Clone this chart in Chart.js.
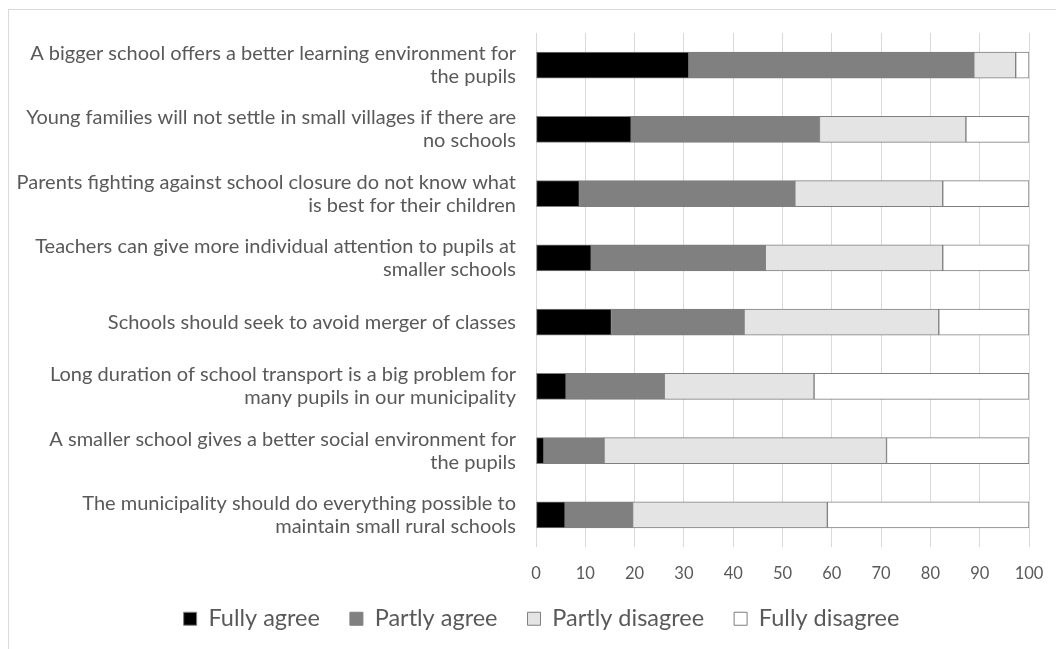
<!DOCTYPE html>
<html lang="en">
  <head>
    <meta charset="UTF-8" />
    <title>Attitudes towards small rural schools</title>
    <script src="https://cdn.jsdelivr.net/npm/chart.js"></script>
    <style>
      body { margin: 0; background: #fff; }
      #frame {
        position: absolute; left: 8px; top: 9px; width: 1100px; height: 700px;
        border-top: 1px solid #d9d9d9; border-left: 1px solid #d9d9d9;
      }
      #wrap { position: absolute; left: 0; top: 0; width: 1056px; height: 649px; }
    </style>
  </head>
  <body>
    <div id="frame"></div>
    <div id="wrap"><canvas id="schoolChart"></canvas></div>

    <script>
      const statements = [
        ["A bigger school offers a better learning environment for", "the pupils"],
        ["Young families will not settle in small villages if there are", "no schools"],
        ["Parents fighting against school closure do not know what", "is best for their children"],
        ["Teachers can give more individual attention to pupils at", "smaller schools"],
        "Schools should seek to avoid merger of classes",
        ["Long duration of school transport is a big problem for", "many pupils in our municipality"],
        ["A smaller school gives a better social environment for", "the pupils"],
        ["The municipality should do everything possible to", "maintain small rural schools"],
      ];

      // percent of respondents per answer
      const fullyAgree = [31.0, 19.3, 8.8, 11.2, 15.3, 6.1, 1.6, 5.9];
      const partlyAgree = [57.8, 38.2, 43.7, 35.3, 26.9, 19.9, 12.2, 13.7];
      const partlyDisagree = [8.5, 29.7, 30.0, 36.0, 39.5, 30.4, 57.3, 39.5];
      const fullyDisagree = [2.7, 12.8, 17.5, 17.5, 18.3, 43.6, 28.9, 40.9];

      const FONT = "Lato, 'Open Sans', sans-serif";
      const TEXT = "#595959";

      function series(label, data, fill) {
        return {
          label: label,
          data: data,
          backgroundColor: fill,
          borderColor: "#7f7f7f",
          borderWidth: 1,
          borderSkipped: false,
          barThickness: 26,
        };
      }

      // legend is pulled up into the tick-label band and nudged right
      // (only top moves, so its clip box still reaches the bottom)
      const legendNudge = {
        id: "legendNudge",
        afterLayout(chart) {
          chart.legend.left += 54;
          chart.legend.top -= 23;
        },
      };

      const ctx = document.getElementById("schoolChart").getContext("2d");
      new Chart(ctx, {
        type: "bar",
        data: {
          labels: statements,
          datasets: [
            series("Fully agree", fullyAgree, "#000000"),
            series("Partly agree", partlyAgree, "#808080"),
            series("Partly disagree", partlyDisagree, "#e4e4e4"),
            series("Fully disagree", fullyDisagree, "#ffffff"),
          ],
        },
        options: {
          indexAxis: "y",
          responsive: true,
          maintainAspectRatio: false,
          animation: false,
          layout: { padding: { top: 33, right: 27, bottom: 9, left: 0 } },
          scales: {
            x: {
              stacked: true,
              min: 0,
              max: 100,
              ticks: { stepSize: 10, color: TEXT, padding: 17, font: { family: FONT, size: 16.5 } },
              grid: { color: "#d9d9d9", drawTicks: false },
              border: { display: false },
              afterFit: (scale) => {
                scale.height = 53;
                scale.paddingLeft = 0;
                scale.paddingRight = 0;
              },
            },
            y: {
              stacked: true,
              ticks: {
                color: TEXT,
                padding: 20,
                autoSkip: false,
                font: { family: FONT, size: 20, lineHeight: 1.15 },
              },
              grid: { display: false, drawTicks: false },
              border: { display: false },
              afterFit: (scale) => {
                scale.width = 536;
                scale.paddingTop = 0;
                scale.paddingBottom = 0;
              },
            },
          },
          plugins: {
            tooltip: { enabled: false },
            legend: {
              position: "bottom",
              maxHeight: 40,
              labels: {
                color: TEXT,
                boxWidth: 13,
                boxHeight: 13,
                padding: 30,
                font: { family: FONT, size: 23.5 },
              },
            },
          },
        },
        plugins: [legendNudge],
      });
    </script>
  </body>
</html>
